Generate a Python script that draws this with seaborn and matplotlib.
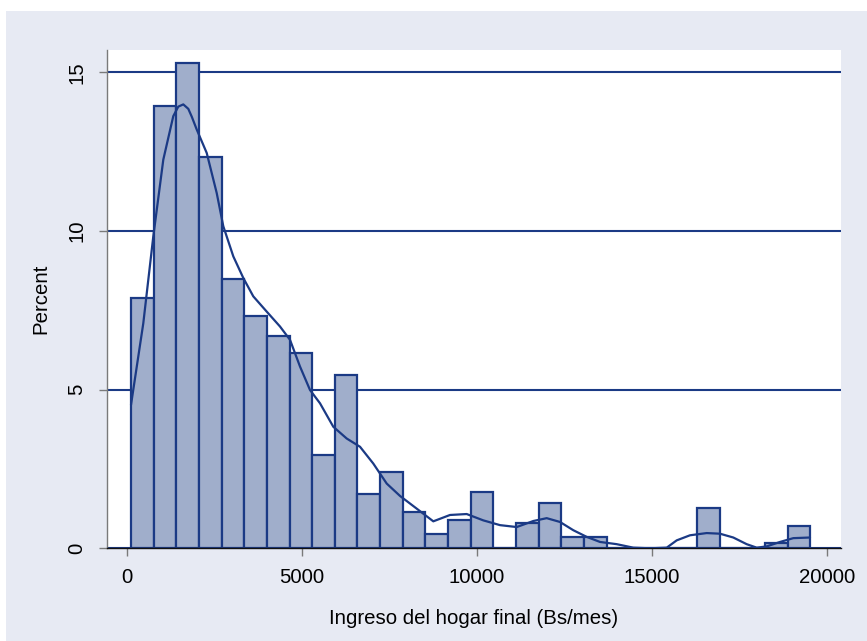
import numpy as np
import pandas as pd
import matplotlib
matplotlib.use("Agg")
import matplotlib.pyplot as plt
from matplotlib.patches import Rectangle
import seaborn as sns

# ---- data ----
bin_start = 123
bin_width = 647
n_bins = 30
bar_percent = [7.88, 13.94, 15.29, 12.33, 8.49, 7.33, 6.70, 6.16, 2.95, 5.45,
               1.70, 2.41, 1.15, 0.44, 0.90, 1.78, 0.0, 0.81, 1.43, 0.36,
               0.36, 0.0, 0.0, 0.0, 0.0, 1.26, 0.0, 0.0, 0.18, 0.71]

kde_x = [123, 474, 760, 1046, 1331, 1474, 1617, 1760, 1860, 2000, 2286, 2571, 2760,
         3046, 3331, 3617, 4000, 4380, 4666, 4951, 5237, 5523, 5903, 6286, 6666,
         7046, 7429, 7809, 8286, 8760, 9237, 9714, 10189, 10666, 11143, 11617,
         12000, 12380, 12760, 13143, 13523, 14000, 14474, 14951, 15429, 15714,
         16094, 16571, 16951, 17331, 17714, 18000, 18286, 18666, 19046, 19523]
kde_y = [4.52, 7.09, 9.83, 12.25, 13.62, 13.92, 13.99, 13.85, 13.6, 13.2, 12.46,
         11.2, 10.15, 9.2, 8.52, 7.94, 7.46, 6.99, 6.57, 5.73, 4.99, 4.57, 3.83,
         3.46, 3.2, 2.67, 2.04, 1.65, 1.25, 0.85, 1.05, 1.08, 0.88, 0.73, 0.67,
         0.86, 0.95, 0.83, 0.57, 0.36, 0.2, 0.13, 0.02, 0.0, 0.02, 0.25, 0.41,
         0.48, 0.46, 0.34, 0.13, 0.02, 0.06, 0.2, 0.32, 0.34]

x_ticks = [0, 5000, 10000, 15000, 20000]
y_ticks = [0, 5, 10, 15]
x_label = "Ingreso del hogar final (Bs/mes)"
y_label = "Percent"

# ---- styling ----
sns.set_style("white")
plt.rcParams['font.family'] = ['Liberation Sans', 'DejaVu Sans']

navy = "#1b3a85"
fill = "#a0aecb"
bg = "#e7eaf3"
W, H = 867, 641

fig = plt.figure(figsize=(W / 100, H / 100), dpi=100, facecolor="white")
fig.patches.append(Rectangle((6 / W, 0), 1 - 6 / W, (H - 11) / H,
                             transform=fig.transFigure, facecolor=bg,
                             edgecolor="none", zorder=-10))

left, right, bottom, top = 107, 841, 548.3, 50
ax = fig.add_axes([left / W, (H - bottom) / H, (right - left) / W, (bottom - top) / H])
ax.set_facecolor("white")

edges = [bin_start + i * bin_width for i in range(n_bins + 1)]
centers = [(edges[i] + edges[i + 1]) / 2 for i in range(n_bins)]
df = pd.DataFrame({"x": centers, "w": bar_percent})

ax.set_axisbelow(True)
ax.yaxis.grid(True, color=navy, linewidth=1.5)
ax.xaxis.grid(False)

sns.histplot(data=df, x="x", weights="w", bins=edges, stat="count",
             color=fill, alpha=1.0, edgecolor=navy, linewidth=1.6, ax=ax, zorder=2)

kdf = pd.DataFrame({"x": kde_x, "y": kde_y})
sns.lineplot(data=kdf, x="x", y="y", color=navy, linewidth=1.6, ax=ax, zorder=3)

ax.set_xlim((left - 126.7) / 0.035, (right - 126.7) / 0.035)
ax.set_ylim(0, (bottom - top) / 31.73)
ax.set_xticks(x_ticks)
ax.set_xticklabels([str(t) for t in x_ticks])
ax.set_yticks(y_ticks)
ax.set_yticklabels([str(t) for t in y_ticks], rotation=90, va="center")

for s in ["top", "right"]:
    ax.spines[s].set_visible(False)
ax.spines["left"].set_color("#7a7a7a")
ax.spines["left"].set_linewidth(1.0)
ax.spines["bottom"].set_color("#111111")
ax.spines["bottom"].set_linewidth(1.0)

ax.tick_params(axis="both", which="major", direction="out", length=6,
               width=1.0, color="#7a7a7a", labelsize=14.7, labelcolor="black",
               bottom=True, left=True)
ax.tick_params(axis="x", pad=8)
ax.tick_params(axis="y", pad=9)

ax.set_xlabel(x_label, fontsize=14.7, labelpad=16, color="black")
ax.set_ylabel(y_label, fontsize=14.7, labelpad=12, color="black")

fig.savefig("out.png", dpi=100, facecolor=fig.get_facecolor())
